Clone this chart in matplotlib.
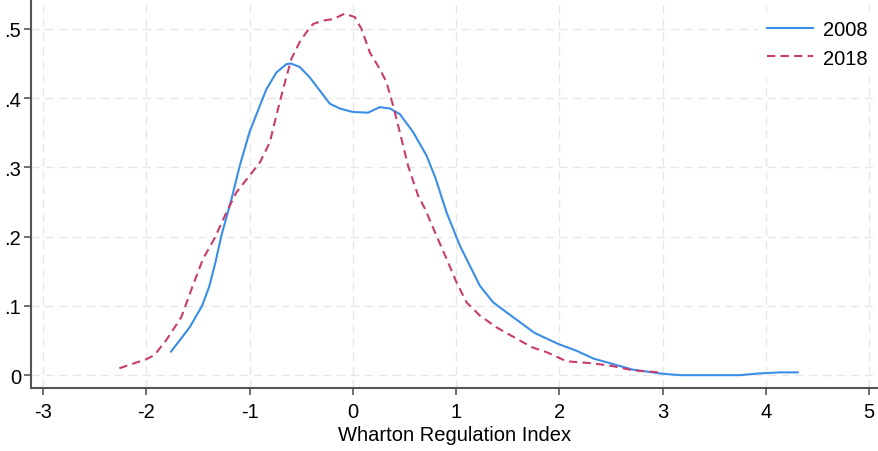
import matplotlib.pyplot as plt

plt.rcParams['font.family'] = ['Liberation Sans', 'DejaVu Sans']
plt.rcParams['axes.unicode_minus'] = False

# density curves
x2008 = [-1.76, -1.58, -1.46, -1.39, -1.33, -1.27, -1.175, -1.095, -1.0, -0.90,
         -0.836, -0.74, -0.643, -0.60, -0.514, -0.417, -0.32, -0.223, -0.126, 0.0,
         0.148, 0.262, 0.359, 0.455, 0.584, 0.714, 0.80, 0.908, 1.037, 1.134,
         1.231, 1.36, 1.55, 1.76, 1.99, 2.17, 2.33, 2.52, 2.71, 3.0, 3.17, 3.75,
         3.94, 4.14, 4.31]
y2008 = [0.034, 0.069, 0.100, 0.128, 0.163, 0.203, 0.254, 0.302, 0.351, 0.389,
         0.413, 0.437, 0.449, 0.450, 0.445, 0.430, 0.411, 0.392, 0.385, 0.380,
         0.379, 0.387, 0.385, 0.377, 0.351, 0.317, 0.285, 0.235, 0.187, 0.158,
         0.129, 0.105, 0.084, 0.061, 0.045, 0.035, 0.024, 0.016, 0.008, 0.002,
         0.0, 0.0, 0.0025, 0.004, 0.004]

x2018 = [-2.26, -2.0, -1.92, -1.80, -1.66, -1.55, -1.45, -1.337, -1.224, -1.127,
         -1.0, -0.90, -0.804, -0.74, -0.675, -0.594, -0.514, -0.45, -0.385, -0.288,
         -0.191, -0.078, 0.019, 0.084, 0.165, 0.262, 0.326, 0.391, 0.455, 0.536,
         0.633, 0.70, 0.811, 0.908, 1.005, 1.102, 1.231, 1.392, 1.618, 1.74,
         1.88, 2.07, 2.33, 2.52, 2.71, 2.97]
y2018 = [0.010, 0.023, 0.029, 0.052, 0.084, 0.129, 0.168, 0.198, 0.235, 0.264,
         0.288, 0.307, 0.336, 0.375, 0.413, 0.457, 0.481, 0.495, 0.507, 0.512,
         0.514, 0.522, 0.517, 0.500, 0.466, 0.442, 0.423, 0.389, 0.351, 0.302,
         0.259, 0.240, 0.201, 0.168, 0.134, 0.105, 0.086, 0.069, 0.050, 0.040,
         0.033, 0.020, 0.017, 0.013, 0.007, 0.004]

xticks = [-3, -2, -1, 0, 1, 2, 3, 4, 5]
yticks = [0, 0.1, 0.2, 0.3, 0.4, 0.5]
ylabels = ['0', '.1', '.2', '.3', '.4', '.5']

fig = plt.figure(figsize=(8.79, 4.52), dpi=100)
ax = fig.add_axes([0.0353, 0.139, 0.964, 0.857])

ax.plot(x2008, y2008, color='#3a8ee6', lw=1.5, label='2008')
ax.plot(x2018, y2018, color='#c83c6e', lw=1.5, ls=(0, (4, 2.5)), label='2018')

ax.set_xlim(-3.116, 5.09)
ax.set_ylim(-0.0188, 0.5405)
ax.set_xticks(xticks)
ax.set_yticks(yticks)
ax.set_yticklabels(ylabels)
ax.tick_params(labelsize=14.5, length=5, width=1.2, color='#555555', pad=5)
ax.tick_params(axis='y', pad=2)
ax.set_xlabel('Wharton Regulation Index', fontsize=14.5, labelpad=3)

ax.grid(True, ls=(0, (6, 4)), color='#e6e6e6', lw=1)
ax.set_axisbelow(True)
for s in ['top', 'right']:
    ax.spines[s].set_visible(False)
for s in ['left', 'bottom']:
    ax.spines[s].set_color('#555555')
    ax.spines[s].set_linewidth(1.5)

leg = ax.legend(loc='upper right', frameon=True, fontsize=14.5, handlelength=2.3,
                handletextpad=0.5, bbox_to_anchor=(0.997, 0.97), borderaxespad=0,
                labelspacing=0.45)
leg.get_frame().set_edgecolor('white')
leg.get_frame().set_facecolor('white')
leg.get_frame().set_alpha(1)

fig.savefig('out.png', dpi=100)
